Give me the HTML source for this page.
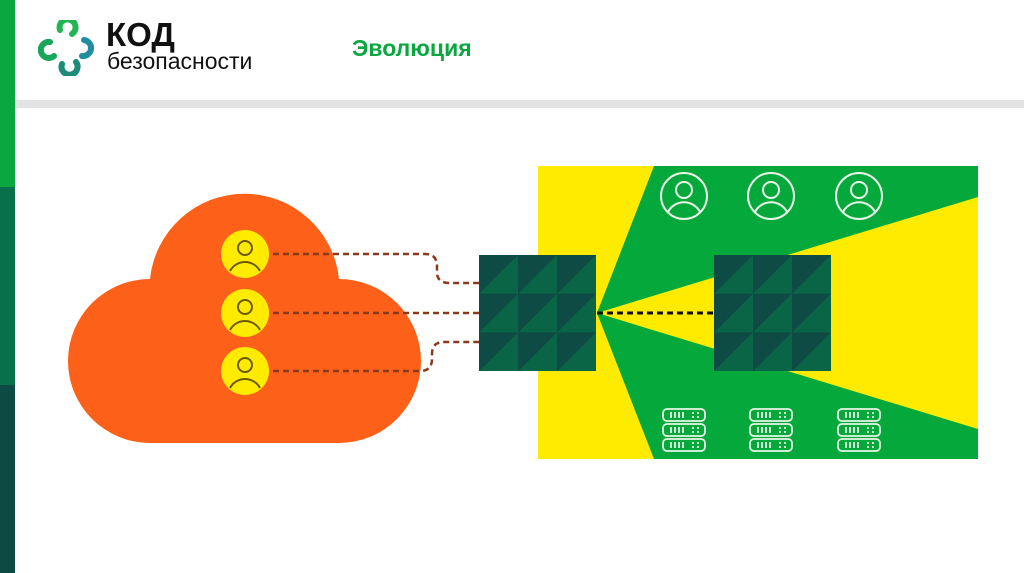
<!DOCTYPE html>
<html><head><meta charset="utf-8"><style>
body{margin:0;width:1024px;height:573px;position:relative;overflow:hidden;background:#fff;font-family:"Liberation Sans",sans-serif}
.a{position:absolute}
</style></head><body>
<div class="a" style="left:0;top:0;width:15px;height:187px;background:#0aa640"></div>
<div class="a" style="left:0;top:187px;width:15px;height:198px;background:#08704a"></div>
<div class="a" style="left:0;top:385px;width:15px;height:188px;background:#0e4a44"></div>
<div class="a" style="left:15px;top:100px;width:1009px;height:8px;background:#e3e3e3"></div>
<svg class="a" style="left:38px;top:20px" width="60" height="56" viewBox="0 0 60 56">
<g fill="none" stroke-width="6" stroke-linecap="round">
<path d="M22 10 A8 8 0 1 1 34 14" stroke="#22b456"/>
<path d="M12 22 A8 8 0 1 0 16 36" stroke="#18a65a"/>
<path d="M46 20 A8 8 0 1 1 44 36" stroke="#1f8fa0"/>
<path d="M24 44 A8 8 0 1 0 38 42" stroke="#1c8c78"/>
</g></svg>
<div class="a" style="left:106px;top:16px;font-size:33px;font-weight:bold;color:#111">КОД</div>
<div class="a" style="left:107px;top:48px;font-size:23px;color:#111">безопасности</div>
<div class="a" style="left:352px;top:35px;font-size:23px;font-weight:bold;color:#0aa640">Эволюция</div>
<svg class="a" style="left:0;top:0" width="1024" height="573">
<rect x="538" y="166" width="440" height="293" fill="#ffeb00"/>
<polygon points="654,166 978,166 978,197 597,313" fill="#05a83a"/>
<polygon points="597,313 978,429 978,459 654,459" fill="#05a83a"/>
<path d="M150 280 L150 279 A95 95 0 0 1 339 279 L339 279 A82 82 0 0 1 421 361 A82 82 0 0 1 339 443 L150 443 A82 82 0 0 1 68 361 A82 82 0 0 1 150 279 Z" fill="#fd6119"/>
<g fill="none" stroke="#8a3a1c" stroke-width="2.5" stroke-dasharray="6 4">
<path d="M273 254 L425 254 Q437 254 437 266 L437 272 Q437 283 449 283 L479 283"/>
<path d="M273 313 L479 313"/>
<path d="M273 371 L420 371 Q432 371 432 359 L432 354 Q432 342 444 342 L479 342"/>
</g>
<g id="u">
<circle cx="245" cy="254" r="24" fill="#ffeb00"/>
<circle cx="245" cy="248" r="7" fill="none" stroke="#6b5a00" stroke-width="2"/>
<path d="M230 271 A17 17 0 0 1 260 271" fill="none" stroke="#6b5a00" stroke-width="2"/>
</g>
<use href="#u" y="59"/><use href="#u" y="117"/>
<line x1="597" y1="313" x2="714" y2="313" stroke="#111" stroke-width="3" stroke-dasharray="6 4"/>
<defs>
<pattern id="p" x="479" y="255" width="39" height="38.7" patternUnits="userSpaceOnUse">
<rect width="39" height="39" fill="#0a6446"/>
<polygon points="0,0 39,0 0,39" fill="#0e4b45"/>
</pattern>
<pattern id="q" x="714" y="255" width="39" height="38.7" patternUnits="userSpaceOnUse">
<rect width="39" height="39" fill="#0a6446"/>
<polygon points="0,0 39,0 0,39" fill="#0e4b45"/>
</pattern>
<g id="ic">
<circle r="23" fill="none" stroke="#e8f5e8" stroke-width="2"/>
<circle cy="-6" r="8" fill="none" stroke="#e8f5e8" stroke-width="2"/>
<path d="M-16 16 A18 18 0 0 1 16 16" fill="none" stroke="#e8f5e8" stroke-width="2"/>
</g>
<g id="sv" fill="none" stroke="#e8f5e8" stroke-width="1.8">
<rect x="-21" y="-22" width="42" height="12" rx="4"/>
<rect x="-21" y="-7" width="42" height="12" rx="4"/>
<rect x="-21" y="8" width="42" height="12" rx="4"/>
<path d="M-13 -19v6M-9 -19v6M-5 -19v6M-1 -19v6M-13 -4v6M-9 -4v6M-5 -4v6M-1 -4v6M-13 11v6M-9 11v6M-5 11v6M-1 11v6M8 -18h2M13 -18h2M8 -14h2M13 -14h2M8 -3h2M13 -3h2M8 1h2M13 1h2M8 12h2M13 12h2M8 16h2M13 16h2"/>
</g>
</defs>
<rect x="479" y="255" width="117" height="116" fill="url(#p)"/>
<rect x="714" y="255" width="117" height="116" fill="url(#q)"/>
<use href="#ic" x="684" y="196"/><use href="#ic" x="771" y="196"/><use href="#ic" x="859" y="196"/>
<use href="#sv" x="684" y="431"/><use href="#sv" x="771" y="431"/><use href="#sv" x="859" y="431"/>
</svg>
</body></html>
